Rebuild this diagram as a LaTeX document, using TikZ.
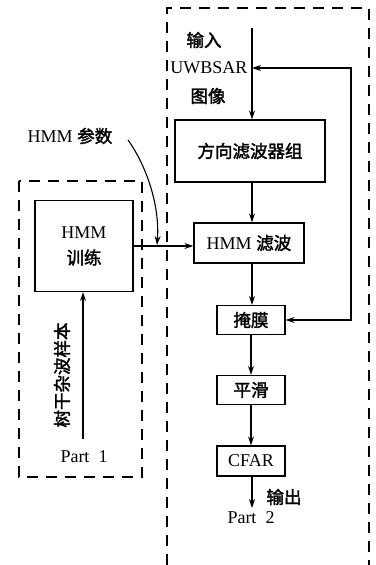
\documentclass[tikz,border=0pt]{standalone}
\usepackage{fontspec}
\setmainfont{Liberation Serif}
\newfontfamily\cjkfam[FakeBold=2]{Noto Sans CJK SC}
\newcommand{\cjk}{\cjkfam\fontsize{17.5}{20}\selectfont}
\usetikzlibrary{arrows.meta,calc}
\begin{document}
\begin{tikzpicture}[x=1pt,y=-1pt,
  box/.style={draw,line width=1.3pt,minimum width=#1,inner sep=0pt,align=center,font=\fontsize{18}{21}\selectfont},
  dashbox/.style={line width=1.4pt,dash pattern=on 11pt off 8pt},
  arr/.style={line width=1.3pt,-{Stealth[length=9pt,width=6pt]}},
  lbl/.style={inner sep=0pt,font=\fontsize{18}{21}\selectfont,align=center}]
\useasboundingbox (0,0) rectangle (375,565);
% dashed frames
\draw[dashbox] (167,565) -- (167,8) -- (369,8) -- (369,565);
\draw[dashbox] (19,181) rectangle (142,477);
% nodes
\node[box=150pt,minimum height=62pt] (dir) at (250,151) {\cjk 方向滤波器组};
\node[box=110pt,minimum height=40pt] (hmmf) at (249,243) {HMM {\cjk 滤波}};
\node[box=68pt,minimum height=29pt] (mask) at (251,320) {\cjk 掩膜};
\node[box=68pt,minimum height=29pt] (smooth) at (251,390) {\cjk 平滑};
\node[box=68pt,minimum height=30pt] (cfar) at (251,461) {CFAR};
\node[box=98pt,minimum height=91pt] (train) at (84,246) {HMM\\[5pt]{\cjk 训练}};
% labels
\node[lbl] (in1) at (204,40) {\cjk 输入};
\node[lbl] (in2) at (209,68) {UWBSAR};
\node[lbl] (in3) at (208,96) {\cjk 图像};
\node[lbl] (par) at (70,136) {HMM {\cjk 参数}};
\node[lbl,rotate=90] (samp) at (62,375) {\cjk 树干杂波样本};
\node[lbl] (p1) at (84,457) {Part\ \ 1};
\node[lbl] (p2) at (251,518) {Part\ \ 2};
\node[lbl] (out) at (284,497) {\cjk 输出};
% coordinates
\coordinate (inTop) at (252,28);
\coordinate (inMid) at (252,68);
\coordinate (fbTop) at (351,68);
\coordinate (sampBot) at (83,439);
\coordinate (cfarOut) at (252,508);
\coordinate (parStart) at (128,140);
\coordinate (parEnd) at (157,245);
% connectors
\draw[arr] (inTop) -- (inTop |- dir.north);
\draw[line width=1.3pt,{Stealth[length=9pt,width=6pt]}-{Stealth[length=9pt,width=6pt]}] (inMid) -- (fbTop) |- (mask.east);
\draw[arr] (dir.south -| inTop) -- (hmmf.north -| inTop);
\draw[arr] (hmmf.south -| inTop) -- (mask.north -| inTop);
\draw[arr] (mask.south) -- (smooth.north);
\draw[arr] (smooth.south) -- (cfar.north);
\draw[arr] (cfar.south -| cfarOut) -- (cfarOut);
\draw[arr] (train.east) -- (train.east -| hmmf.west);
\draw[arr] (sampBot) -- (sampBot |- train.south);
\draw[arr,line width=1.1pt] (parStart) .. controls (146,165) and (160,205) .. (parEnd);
\end{tikzpicture}
\end{document}
